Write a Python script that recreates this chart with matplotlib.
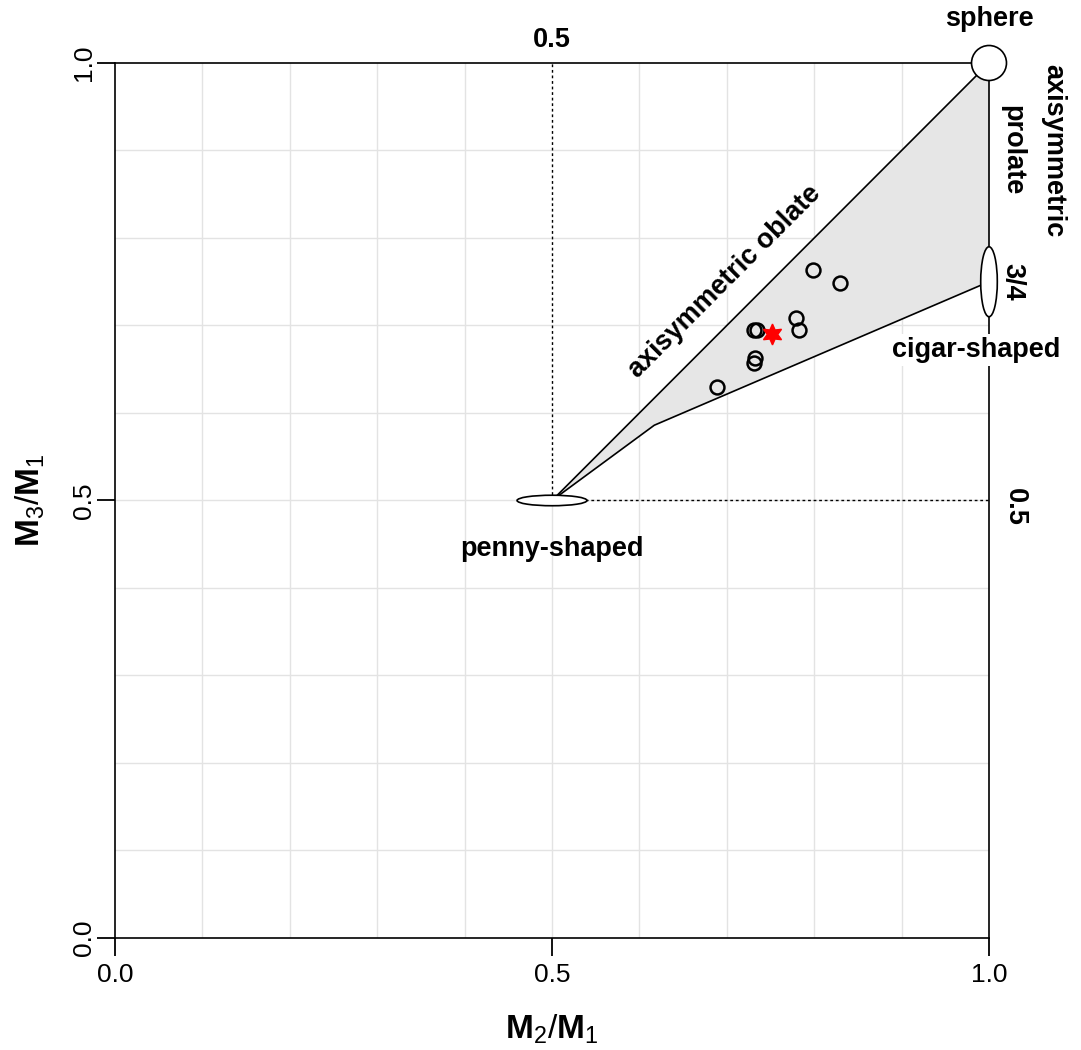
import matplotlib
matplotlib.use('Agg')
import matplotlib.pyplot as plt
from matplotlib.patches import Ellipse, Polygon

plt.rcParams['font.family'] = ['Liberation Sans', 'DejaVu Sans']
plt.rcParams['mathtext.fontset'] = 'custom'
plt.rcParams['mathtext.rm'] = 'Liberation Sans'
plt.rcParams['mathtext.bf'] = 'Liberation Sans:bold'

# samples (M2/M1, M3/M1)
m2_m1 = [0.799, 0.830, 0.779, 0.783, 0.731, 0.735, 0.732, 0.731, 0.689]
m3_m1 = [0.763, 0.748, 0.709, 0.695, 0.695, 0.695, 0.663, 0.657, 0.630]
# mean value (red star)
star_x = [0.752]
star_y = [0.690]

# boundary of admissible region
oblate_x = [0.5, 1.0]
oblate_y = [0.5, 1.0]
lower_x = [0.5, 0.617, 1.0]
lower_y = [0.5, 0.586, 0.75]

fig = plt.figure(figsize=(10.81, 10.50), dpi=100)
ax = fig.add_axes([0.1064, 0.1067, 0.8085, 0.8333])
ax.set_xlim(0, 1)
ax.set_ylim(0, 1)

for v in [0.1, 0.2, 0.3, 0.4, 0.6, 0.7, 0.8, 0.9]:
    ax.axvline(v, color='#e3e3e3', lw=1.0, zorder=0)
ax.axvline(0.5, ymin=0, ymax=0.5, color='#e3e3e3', lw=1.0, zorder=0)
for v in [0.1, 0.2, 0.3, 0.4, 0.5, 0.6, 0.7, 0.8, 0.9]:
    ax.axhline(v, color='#e3e3e3', lw=1.0, zorder=0)

# shaded region
poly_pts = list(zip(oblate_x, oblate_y)) + list(zip(lower_x[::-1], lower_y[::-1]))
ax.add_patch(Polygon(poly_pts, closed=True, facecolor='#e6e6e6', edgecolor='none', zorder=1))
ax.plot(oblate_x, oblate_y, color='black', lw=1.2, zorder=2)
ax.plot(lower_x, lower_y, color='black', lw=1.2, zorder=2)

# dotted guide lines
ax.plot([0.5, 0.5], [0.5, 1.0], color='black', lw=1.0, ls=(0, (2, 2)), zorder=2)
ax.plot([0.5, 1.0], [0.5, 0.5], color='black', lw=1.0, ls=(0, (2, 2)), zorder=2)

ax.plot(m2_m1, m3_m1, ls='none', marker='o', ms=10, mfc='none', mec='black', mew=1.8, zorder=4)
ax.plot(star_x, star_y, ls='none', marker=(6, 1, 0), ms=15, color='red', zorder=5)

# shape glyphs
ax.add_patch(Ellipse((1.0, 1.0), 0.040, 0.040, facecolor='white', edgecolor='black', lw=1.2,
                     zorder=6, clip_on=False))
ax.add_patch(Ellipse((1.0, 0.75), 0.019, 0.080, facecolor='white', edgecolor='black', lw=1.2,
                     zorder=6, clip_on=False))
ax.add_patch(Ellipse((0.5, 0.5), 0.080, 0.012, facecolor='white', edgecolor='black', lw=1.2,
                     zorder=6, clip_on=False))

bold = dict(fontsize=19.5, fontweight='bold', clip_on=False)
ax.text(1.0, 1.036, 'sphere', ha='center', va='bottom', **bold)
ax.text(0.5, 1.012, '0.5', ha='center', va='bottom', **bold)
ax.text(1.050, 0.900, 'axisymmetric\nprolate', rotation=-90, ha='center', va='center',
        linespacing=1.75, **bold)
ax.text(1.027, 0.750, '3/4', rotation=-90, ha='center', va='center', **bold)
ax.text(0.985, 0.672, 'cigar-shaped', ha='center', va='center', zorder=7,
        bbox=dict(facecolor='white', edgecolor='none', pad=2), **bold)
ax.text(1.030, 0.493, '0.5', rotation=-90, ha='center', va='center', **bold)
ax.text(0.5, 0.445, 'penny-shaped', ha='center', va='center', **bold)
ax.text(0.698, 0.750, 'axisymmetric oblate', rotation=45, ha='center', va='center',
        rotation_mode='anchor', **bold)

ax.set_xticks([0.0, 0.5, 1.0])
ax.set_yticks([0.0, 0.5, 1.0])
ax.set_xticklabels(['0.0', '0.5', '1.0'], fontsize=19)
ax.set_yticklabels(['0.0', '0.5', '1.0'], fontsize=19, rotation=90, va='center')
ax.tick_params(direction='out', length=13, width=1.3)
ax.tick_params(axis='x', pad=5)
ax.tick_params(axis='y', pad=1)
for s in ax.spines.values():
    s.set_linewidth(1.2)

ax.set_xlabel(r'$\mathbf{M}_2/\mathbf{M}_1$', fontsize=24, labelpad=18)
ax.set_ylabel(r'$\mathbf{M}_3/\mathbf{M}_1$', fontsize=24, labelpad=18)

plt.savefig('out.png', dpi=100)
plt.close()
